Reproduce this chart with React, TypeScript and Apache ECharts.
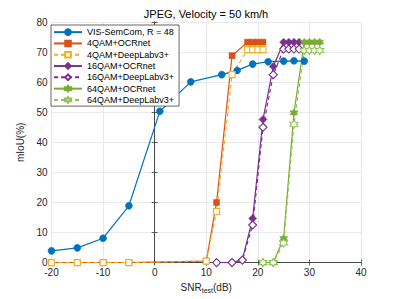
import React, { useEffect, useRef } from "react";
import * as echarts from "echarts";

const xTicks = [-20, 40];
const yTicks = [0, 80];

const visSnr = [-20, -15, -10, -5, 1, 4, 7, 13, 16, 19, 22, 25, 27, 29];
const visMiou = [3.9, 4.9, 8.1, 18.9, 50.3, 55.2, 60.1, 62.5, 63.9, 66.0, 66.8, 67.0, 67.1, 67.0];

const qam4Snr = [-20, -15, -10, -5, 10, 12, 15, 18, 19, 20, 21];
const qam4Ocr = [0, 0, 0, 0, 0.5, 20, 68.8, 73.3, 73.3, 73.3, 73.3];
const qam4Dlv = [0, 0, 0, 0, 0.5, 17, 62.5, 70.8, 70.8, 70.8, 70.8];

const qam16Snr = [12, 15, 17, 19, 21, 23, 25, 26, 27, 28];
const qam16Ocr = [0, 0, 1, 14.7, 47.6, 65.2, 73.3, 73.3, 73.3, 73.3];
const qam16Dlv = [0, 0, 0.8, 12.5, 45, 62.5, 71, 71, 71, 71];

const qam64Snr = [21, 23, 25, 27, 29, 30, 31, 32];
const qam64Ocr = [0, 0, 8, 49.8, 73.3, 73.3, 73.3, 73.3];
const qam64Dlv = [0, 0, 6.5, 46, 70.5, 70.5, 70.5, 70.5];

const names = [
  "VIS-SemCom, R = 48",
  "4QAM+OCRnet",
  "4QAM+DeepLabv3+",
  "16QAM+OCRnet",
  "16QAM+DeepLabv3+",
  "64QAM+OCRnet",
  "64QAM+DeepLabv3+",
];

const HEX =
  "path://M10 0 L12.887 5 L18.66 5 L15.774 10 L18.66 15 L12.887 15 L10 20 L7.113 15 L1.34 15 L4.226 10 L1.34 5 L7.113 5 Z";

const FONT = "Liberation Sans, Arial, Helvetica, sans-serif";

function pairs(xs: number[], ys: number[]) {
  return xs.map((x, i) => [x, ys[i]]);
}

function mk(
  name: string,
  xs: number[],
  ys: number[],
  color: string,
  symbol: string,
  size: number,
  dashed: boolean,
  open: boolean
) {
  return {
    type: "line",
    name,
    data: pairs(xs, ys),
    symbol,
    symbolSize: size,
    showAllSymbol: true,
    lineStyle: { color, width: 1.2, type: dashed ? [4, 3] : "solid" },
    itemStyle: open
      ? { color: "#ffffff", borderColor: color, borderWidth: 1.1 }
      : { color, borderColor: color, borderWidth: 0.5 },
    emphasis: { disabled: true },
  };
}

export default function App() {
  const ref = useRef<HTMLDivElement>(null);
  useEffect(() => {
    if (!ref.current) return;
    const chart = echarts.init(ref.current, undefined, { renderer: "svg" });
    const axisCommon = {
      type: "value",
      axisLine: { show: true, lineStyle: { color: "#404040", width: 0.8 } },
      axisTick: { show: true, inside: true, length: 3, lineStyle: { color: "#404040", width: 0.8 } },
      splitLine: { show: false },
    };
    chart.setOption({
      animation: false,
      backgroundColor: "#ffffff",
      title: {
        text: "JPEG, Velocity = 50 km/h",
        left: 206,
        top: 8,
        textAlign: "center",
        padding: 0,
        textStyle: { fontFamily: FONT, fontSize: 11, fontWeight: "normal", color: "#000000" },
      },
      grid: { left: 51.5, right: 38, top: 22, bottom: 35, containLabel: false },
      legend: {
        orient: "vertical",
        left: 51,
        top: 25,
        itemWidth: 28,
        itemHeight: 7,
        itemGap: 0,
        padding: [1.5, 5, 0.5, 2],
        borderColor: "#404040",
        borderWidth: 0.8,
        backgroundColor: "#ffffff",
        data: names,
        textStyle: { fontFamily: FONT, fontSize: 9, lineHeight: 11.3, color: "#000000" },
      },
      xAxis: [
        {
          ...axisCommon,
          min: xTicks[0],
          max: xTicks[1],
          interval: 10,
          name: "{a|SNR}{b|test}{a|(dB)}",
          nameLocation: "middle",
          nameGap: 17,
          nameTextStyle: {
            fontFamily: FONT,
            color: "#262626",
            rich: {
              a: { fontFamily: FONT, fontSize: 10, color: "#262626" },
              b: { fontFamily: FONT, fontSize: 7, color: "#262626", padding: [6, 0, 0, 0] },
            },
          },
          axisLabel: { fontFamily: FONT, fontSize: 10, color: "#262626", margin: 5 },
          splitLine: { show: true, lineStyle: { color: "#e3e3e3", width: 0.8 } },
        },
        {
          ...axisCommon,
          position: "top",
          min: xTicks[0],
          max: xTicks[1],
          interval: 10,
          axisLabel: { show: false },
        },
      ],
      yAxis: [
        {
          ...axisCommon,
          min: yTicks[0],
          max: yTicks[1],
          interval: 10,
          name: "mIoU(%)",
          nameLocation: "middle",
          nameGap: 16,
          nameTextStyle: { fontFamily: FONT, fontSize: 10, color: "#262626" },
          axisLabel: { fontFamily: FONT, fontSize: 10, color: "#262626", margin: 4 },
          splitLine: { show: true, lineStyle: { color: "#e3e3e3", width: 0.8 } },
        },
        {
          ...axisCommon,
          position: "right",
          min: yTicks[0],
          max: yTicks[1],
          interval: 10,
          axisLabel: { show: false },
        },
      ],
      series: [
        mk(names[0], visSnr, visMiou, "#0072BD", "circle", 7, false, false),
        mk(names[1], qam4Snr, qam4Ocr, "#D95319", "rect", 6, false, false),
        mk(names[2], qam4Snr, qam4Dlv, "#EDB120", "rect", 6, true, true),
        mk(names[3], qam16Snr, qam16Ocr, "#7E2F8E", "diamond", 8, false, false),
        mk(names[4], qam16Snr, qam16Dlv, "#7E2F8E", "diamond", 8, true, true),
        mk(names[5], qam64Snr, qam64Ocr, "#77AC30", HEX, 8, false, false),
        mk(names[6], qam64Snr, qam64Dlv, "#93C25A", HEX, 8, true, true),
      ],
    });
    return () => chart.dispose();
  }, []);
  return (
    <div
      ref={ref}
      style={{ position: "fixed", left: 0, top: 0, width: 399, height: 299 }}
    />
  );
}
